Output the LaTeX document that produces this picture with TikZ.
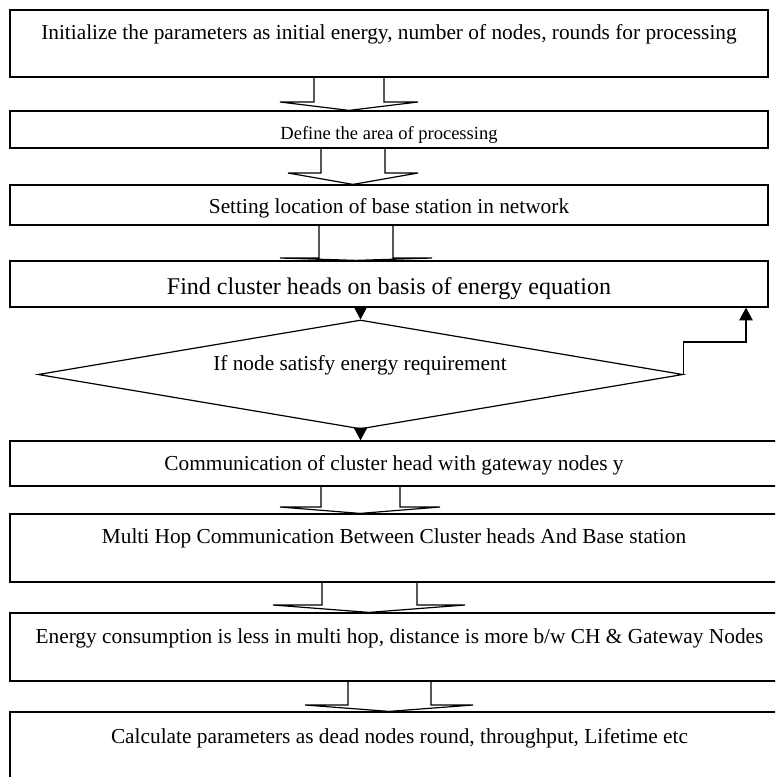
\documentclass[tikz,border=0pt]{standalone}
\usepackage{fontspec}
\setmainfont{Liberation Serif}
\usetikzlibrary{shapes,arrows.meta,positioning}

\tikzset{
  boxsize/.style 2 args={minimum width=#1*0.75pt, minimum height=#2*0.75pt},
  box/.style={draw, rectangle, line width=0.9pt, inner sep=0pt},
  txt/.style={font=\fontsize{16}{18}\selectfont, anchor=base, inner sep=0pt},
  flow/.style={line width=0.9pt, -{Triangle[length=9.5pt,width=10pt]}},
  blockarrow/.style={line width=0.9pt}
}
% block arrow: from, to, shaft left, shaft right, head left, head right, wing y
\newcommand{\blockarrow}[7]{%
  \pgfmathsetmacro\tipx{(#5+#6)/2}
  \draw[blockarrow] (#3,0 |- #1.south) -- (#3,#7) -- (#5,#7) -- (\tipx,0 |- #2.north)
    -- (#6,#7) -- (#4,#7) -- (#4,0 |- #1.south);
}

\begin{document}
\begin{tikzpicture}[x=0.75pt,y=0.75pt,yscale=-1]
  \clip (0,0) rectangle (775,777);

  \node[box, boxsize={758}{67}] (init) at (389,43.5) {};
  \node[box, boxsize={758}{37}] (area) at (389,129.5) {};
  \node[box, boxsize={758}{40}] (base) at (389,205) {};
  \node[box, boxsize={758}{46}] (find) at (389,284) {};
  \node[draw, diamond, aspect=5.9, line width=0.9pt, inner sep=0pt, boxsize={645}{109}] (check) at (360.5,374.5) {};
  \node[box, boxsize={768}{45}] (comm) at (394,463.5) {};
  \node[box, boxsize={768}{68}] (multi) at (394,548) {};
  \node[box, boxsize={779}{68}] (energy) at (399.5,647) {};
  \node[box, boxsize={779}{78}] (calc) at (399.5,751) {};

  \node[txt] (initText) at (389,40) {Initialize the parameters as initial energy, number of nodes, rounds for processing};
  \begin{scope}
    \clip (area.north west) rectangle ([yshift=8.25pt]area.south east);
    \node[txt, font=\fontsize{13.9}{16}\selectfont] (areaText) at (389,140) {Define the area of processing};
  \end{scope}
  \begin{scope}
    \clip (base.north west) rectangle ([yshift=9pt]base.south east);
    \node[txt] (baseText) at (389,214) {Setting location of base station in network};
  \end{scope}
  \node[txt, font=\fontsize{18}{20}\selectfont] (findText) at (389,294) {Find cluster heads on basis of energy equation};
  \node[txt] (checkText) at (360,370.5) {If node satisfy energy requirement};
  \node[txt] (commText) at (394,470.5) {Communication of cluster head with gateway nodes y};
  \node[txt] (multiText) at (394,543) {Multi Hop Communication Between Cluster heads And Base station};
  \node[txt] (energyText) at (399.5,643) {Energy consumption is less in multi hop, distance is more b/w CH \& Gateway Nodes};
  \node[txt] (calcText) at (399.5,743) {Calculate parameters as dead nodes round, throughput, Lifetime etc};

  \blockarrow{init}{area}{314}{384}{280}{418}{102}
  \blockarrow{area}{base}{321}{385}{288}{418}{173}
  \blockarrow{base}{find}{319}{393}{280}{432}{258}
  \blockarrow{comm}{multi}{321}{400}{280}{440}{507}
  \blockarrow{multi}{energy}{322}{417}{273}{465}{605}
  \blockarrow{energy}{calc}{348}{431}{305}{473}{705}

  \draw[flow] (check.north |- find.south) -- (check.north);
  \draw[flow] (check.south) -- (check.south |- comm.north);
  \draw[flow] (check.east) -- ++(0,-32.5) -| (746,0 |- find.south);
\end{tikzpicture}
\end{document}
